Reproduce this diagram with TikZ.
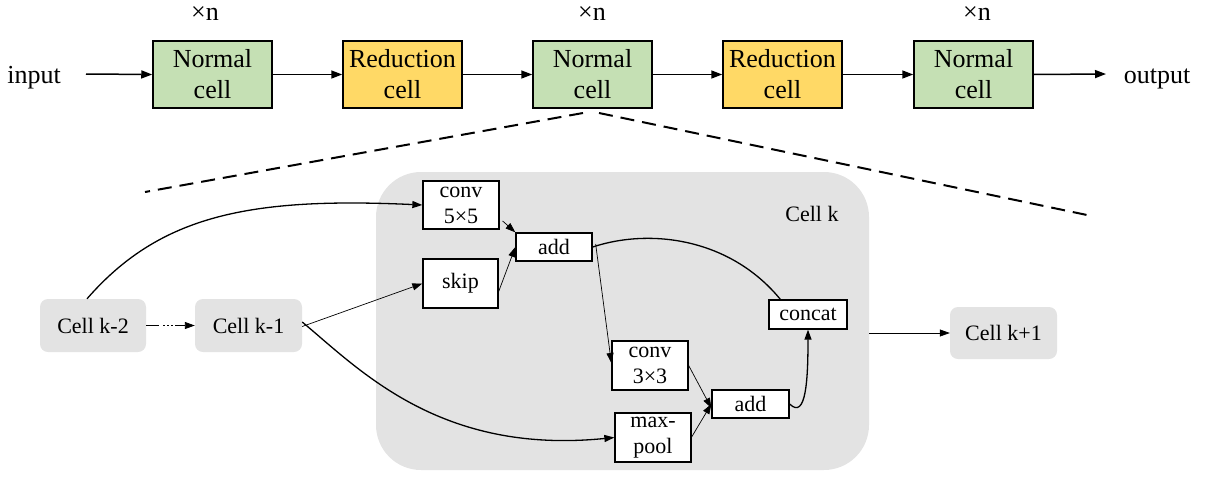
\documentclass[tikz,border=0pt]{standalone}
\usepackage{fontspec}
\setmainfont{Liberation Serif}
\newfontfamily\tnr{Liberation Serif}
\usetikzlibrary{arrows.meta}
\definecolor{ngreen}{HTML}{C5E0B4}
\definecolor{ryellow}{HTML}{FFD966}
\definecolor{cgrey}{HTML}{E3E3E3}
\tikzset{
 topbox/.style={draw=black, line width=1.5pt, minimum width=119pt, minimum height=67pt, inner sep=0pt, align=center, font=\tnr\fontsize{26}{31}\selectfont},
 normalcell/.style={topbox, fill=ngreen},
 redcell/.style={topbox, fill=ryellow},
 opbox/.style={draw=black, line width=1.3pt, fill=white, inner sep=0pt, align=center, font=\tnr\fontsize{22}{26}\selectfont},
 cellnode/.style={fill=cgrey, rounded corners=8pt, minimum width=106pt, minimum height=53pt, font=\tnr\fontsize{22}{26}\selectfont, inner sep=0pt},
 bigarrow/.style={line width=1.5pt, -{Triangle[length=11pt,width=8pt]}},
 midarrow/.style={line width=1.3pt, -{Triangle[length=10pt,width=7pt]}},
 thinarrow/.style={line width=0.7pt, -{Triangle[length=10pt,width=7pt]}},
 dashline/.style={line width=2pt, dash pattern=on 14pt off 8pt},
 lbl/.style={font=\tnr\fontsize{26}{31}\selectfont, inner sep=0pt}
}
\begin{document}
\begin{tikzpicture}[x=1pt,y=-1pt]
\useasboundingbox (0,0) rectangle (1206,477);
% top row
\node[normalcell] (n1) at (212.5,74.5) {Normal\\cell};
\node[redcell] (r1) at (402.5,74.5) {Reduction\\cell};
\node[normalcell] (n2) at (592.5,74.5) {Normal\\cell};
\node[redcell] (r2) at (782.5,74.5) {Reduction\\cell};
\node[normalcell] (n3) at (973.5,74.5) {Normal\\cell};
\node[lbl, anchor=base] (x1) at (205,20) {×n};
\node[lbl, anchor=base] (x2) at (592,20) {×n};
\node[lbl, anchor=base] (x3) at (977,20) {×n};
\node[lbl, anchor=base] (inp) at (34,83) {input};
\node[lbl, anchor=base] (outp) at (1157,83) {output};
\coordinate (inA) at (86,74);
\coordinate (outA) at (1106,74);
\draw[bigarrow] (inA) -- (n1.west);
\draw[bigarrow] (n1.east) -- (r1.west);
\draw[bigarrow] (r1.east) -- (n2.west);
\draw[bigarrow] (n2.east) -- (r2.west);
\draw[bigarrow] (r2.east) -- (n3.west);
\draw[bigarrow] (n3.east) -- (outA);
% zoom dashed lines
\coordinate (dl0) at (583,113);
\coordinate (dl1) at (145,192);
\coordinate (dr0) at (599,113);
\coordinate (dr1) at (1087,215);
\draw[dashline] (dl0) -- (dl1);
\draw[dashline] (dr0) -- (dr1);
% cell k region
\node[fill=cgrey, rounded corners=45pt, minimum width=493pt, minimum height=298pt, inner sep=0pt] (cellk) at (622.5,321) {};
\node[font=\tnr\fontsize{22}{26}\selectfont, inner sep=0pt] (cellklbl) at (812,214) {Cell k};
% ops
\node[opbox, minimum width=76pt, minimum height=48pt] (conv5) at (461,205) {conv\\5×5};
\node[opbox, minimum width=75pt, minimum height=49pt] (skip) at (460.5,283.5) {skip};
\node[opbox, minimum width=76pt, minimum height=28pt] (add1) at (554,247) {add};
\node[opbox, minimum width=76pt, minimum height=49pt] (conv3) at (650,365.5) {conv\\3×3};
\node[opbox, minimum width=76pt, minimum height=49pt] (pool) at (653,437.5) {max-\\pool};
\node[opbox, minimum width=77pt, minimum height=28pt] (add2) at (750.5,404) {add};
\node[opbox, minimum width=78pt, minimum height=29pt] (concat) at (808,314.5) {concat};
% cells
\node[cellnode] (km2) at (93,325.5) {Cell k-2};
\node[cellnode, minimum width=107pt] (km1) at (248.5,325.5) {Cell k-1};
\node[cellnode, minimum width=107pt, minimum height=52pt] (kp1) at (1003.5,333) {Cell k+1};
% connectors
\draw[line width=0.9pt, dash pattern=on 13pt off 4pt on 1.5pt off 2.5pt on 1.5pt off 2.5pt on 1.5pt off 2.5pt on 40pt, -{Triangle[length=10pt,width=7pt]}] (km2.east) -- (km1.west);
\draw[midarrow] ([xshift=-6pt]km2.north) .. controls (160,215) and (250,197) .. (conv5.west);
\draw[thinarrow] ([yshift=-1pt]km1.east) -- (skip.west);
\draw[midarrow] ([yshift=3.5pt]km1.east) .. controls (360,370) and (440,455) .. (pool.west);
\draw[thinarrow] ([xshift=3pt,yshift=-16pt]conv5.east) -- (add1.north west);
\draw[thinarrow] ([yshift=-8pt]skip.east) -- (add1.west);
\draw[thinarrow] ([xshift=3pt,yshift=3pt]add1.east) -- ([yshift=2.5pt]conv3.west);
\draw[line width=1.3pt] (add1.east) .. controls (650,228) and (730,238) .. ([xshift=12pt]concat.north west);
\draw[thinarrow] (conv3.east) -- ([yshift=-4pt]add2.west);
\draw[thinarrow] ([yshift=0.5pt]pool.east) -- (add2.west);
\draw[midarrow] (add2.east) .. controls (806,420) and (808,380) .. (concat.south);
\draw[thinarrow] (cellk.east |- kp1.west) -- (kp1.west);
\end{tikzpicture}
\end{document}
